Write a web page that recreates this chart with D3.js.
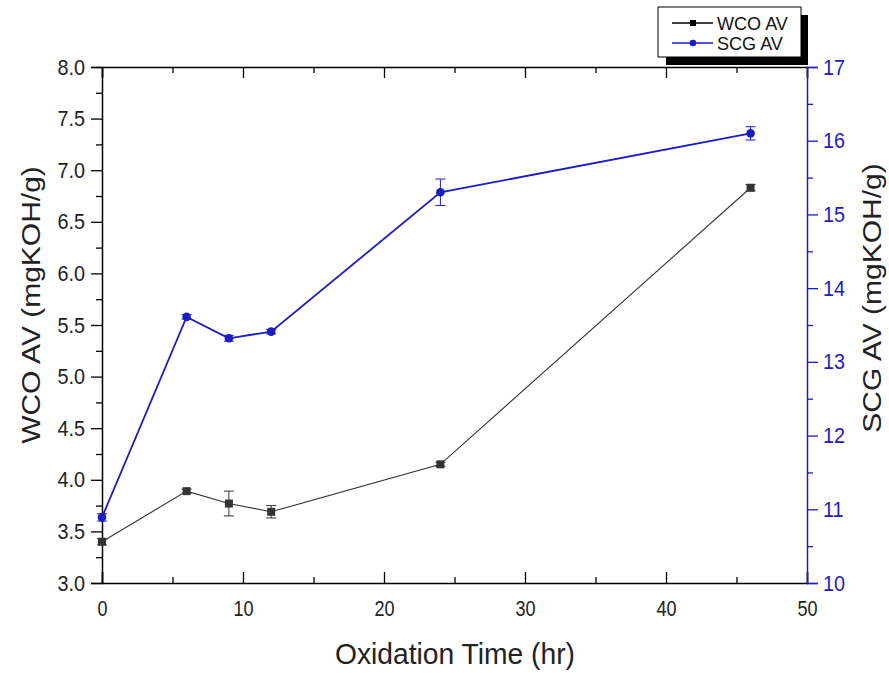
<!DOCTYPE html>
<html><head><meta charset="utf-8">
<script src="https://cdn.jsdelivr.net/npm/d3@7"></script>
<style>body{margin:0;background:#fff;} text{font-family:"Liberation Sans",Arial,sans-serif;}</style>
</head><body>
<svg id="c" width="889" height="673"></svg>
<script>
const times = [0, 6, 9, 12, 24, 46];
const wcoAV = [3.40, 3.89, 3.77, 3.69, 4.15, 6.83];
const wcoErr = [0.03, 0.02, 0.12, 0.06, 0.02, 0.03];
const scgAV = [10.89, 13.61, 13.32, 13.41, 15.30, 16.10];
const scgErr = [0.05, 0.03, 0.04, 0.03, 0.18, 0.09];
const xTicks = [0, 10, 20, 30, 40, 50];
const yLeftTicks = [3.0, 3.5, 4.0, 4.5, 5.0, 5.5, 6.0, 6.5, 7.0, 7.5, 8.0];
const yRightTicks = [10, 11, 12, 13, 14, 15, 16, 17];
const seriesNames = ["WCO AV", "SCG AV"];

const BLUE = "#1c1cc4";
const FONT = "Liberation Sans, Arial, sans-serif";
const svg = d3.select("#c");
const L = 102, R = 807, T = 67, B = 583;
const x = d3.scaleLinear().domain([0, 50]).range([L, R]);
const yL = d3.scaleLinear().domain([3, 8]).range([B, T]);
const yR = d3.scaleLinear().domain([10, 17]).range([B, T]);

function squeeze(sel, f) {
  sel.each(function () {
    const w = this.getComputedTextLength();
    if (w > 0) d3.select(this).attr("textLength", w * f).attr("lengthAdjust", "spacingAndGlyphs");
  });
}

// axes
const gBottom = svg.append("g").attr("transform", `translate(0,${B})`)
  .call(d3.axisBottom(x).tickValues(d3.range(0, 51, 5)).tickSize(-11).tickFormat(""));
gBottom.selectAll(".tick line").attr("y2", d => d % 10 === 0 ? -11 : -6);
const gBottomLab = svg.append("g").attr("transform", `translate(0,${B})`)
  .call(d3.axisBottom(x).tickValues(xTicks).tickSize(0).tickPadding(17).tickFormat(d3.format("d")));
gBottomLab.select(".domain").remove();

const gTop = svg.append("g").attr("transform", `translate(0,${T})`)
  .call(d3.axisTop(x).tickValues(d3.range(0, 51, 5)).tickSize(-11).tickFormat(""));
gTop.selectAll(".tick line").attr("y2", d => d % 10 === 0 ? 11 : 6);

const isHalf = d => Math.abs(d * 2 - Math.round(d * 2)) < 1e-6;
const gLeft = svg.append("g").attr("transform", `translate(${L},0)`)
  .call(d3.axisLeft(yL).tickValues(d3.range(3, 8.01, 0.25)).tickSize(11).tickPadding(6)
    .tickFormat(d => isHalf(d) ? d3.format(".1f")(d) : ""));
gLeft.selectAll(".tick line").attr("x2", d => isHalf(d) ? -11 : -6);

const gRight = svg.append("g").attr("transform", `translate(${R},0)`)
  .call(d3.axisRight(yR).tickValues(d3.range(10, 17.01, 0.5)).tickSize(11).tickPadding(5)
    .tickFormat(d => Number.isInteger(d) ? d3.format("d")(d) : ""));
gRight.selectAll(".tick line").attr("x2", d => Number.isInteger(d) ? 11 : 6);

[gBottom, gTop, gLeft, gBottomLab].forEach(g => {
  g.selectAll("path.domain").attr("stroke", "#000").attr("stroke-width", 1.5);
  g.selectAll(".tick line").attr("stroke", "#000").attr("stroke-width", 1.3);
  g.selectAll("text").attr("fill", "#222").style("font-size", "22px").style("font-family", FONT);
});
gRight.selectAll("path.domain").attr("stroke", BLUE).attr("stroke-width", 1.5);
gRight.selectAll(".tick line").attr("stroke", BLUE).attr("stroke-width", 1.3);
gRight.selectAll("text").attr("fill", BLUE).style("font-size", "22px").style("font-family", FONT);
squeeze(gBottomLab.selectAll("text"), 0.82);
squeeze(gLeft.selectAll("text"), 0.9);
squeeze(gRight.selectAll("text"), 0.9);

// titles
svg.append("text").attr("x", 455).attr("y", 664).attr("text-anchor", "middle")
  .attr("textLength", 240).attr("lengthAdjust", "spacingAndGlyphs")
  .style("font-size", "29px").attr("fill", "#222").text("Oxidation Time (hr)");
svg.append("text").attr("transform", `translate(40,305) scale(0.85,1) rotate(-90)`).attr("text-anchor", "middle")
  .style("font-size", "30px").attr("fill", "#222").text("WCO AV (mgKOH/g)");
svg.append("text").attr("transform", `translate(881,298) scale(0.85,1) rotate(-90)`).attr("text-anchor", "middle")
  .style("font-size", "30px").attr("fill", "#222").text("SCG AV (mgKOH/g)");

// data
const wco = times.map((t, i) => ({ t, v: wcoAV[i], e: wcoErr[i] }));
const scg = times.map((t, i) => ({ t, v: scgAV[i], e: scgErr[i] }));

function drawSeries(data, y, color, width, marker) {
  const g = svg.append("g");
  g.append("path").datum(data).attr("fill", "none").attr("stroke", color).attr("stroke-width", width)
    .attr("d", d3.line().x(d => x(d.t)).y(d => y(d.v)));
  const eb = g.selectAll(".eb").data(data).enter().append("g").attr("stroke", color).attr("stroke-width", 1);
  eb.append("line").attr("x1", d => x(d.t)).attr("x2", d => x(d.t)).attr("y1", d => y(d.v - d.e)).attr("y2", d => y(d.v + d.e));
  eb.append("line").attr("x1", d => x(d.t) - 5).attr("x2", d => x(d.t) + 5).attr("y1", d => y(d.v - d.e)).attr("y2", d => y(d.v - d.e));
  eb.append("line").attr("x1", d => x(d.t) - 5).attr("x2", d => x(d.t) + 5).attr("y1", d => y(d.v + d.e)).attr("y2", d => y(d.v + d.e));
  if (marker === "square") {
    g.selectAll(".m").data(data).enter().append("rect")
      .attr("x", d => x(d.t) - 4).attr("y", d => y(d.v) - 4).attr("width", 8).attr("height", 8).attr("fill", color);
  } else {
    g.selectAll(".m").data(data).enter().append("circle")
      .attr("cx", d => x(d.t)).attr("cy", d => y(d.v)).attr("r", 4.3).attr("fill", color);
  }
}
drawSeries(wco, yL, "#333", 1.1, "square");
drawSeries(scg, yR, BLUE, 1.8, "circle");

// legend
const lg = svg.append("g");
lg.append("rect").attr("x", 666).attr("y", 15).attr("width", 142).attr("height", 50).attr("fill", "#000");
lg.append("rect").attr("x", 658).attr("y", 7).attr("width", 143).attr("height", 50).attr("fill", "#fff").attr("stroke", "#000").attr("stroke-width", 1);
const items = [{ n: seriesNames[0], c: "#000", m: "square" }, { n: seriesNames[1], c: BLUE, m: "circle" }];
items.forEach((it, i) => {
  const yy = 23 + i * 20;
  lg.append("line").attr("x1", 672).attr("x2", 713).attr("y1", yy).attr("y2", yy).attr("stroke", it.c).attr("stroke-width", 1.3);
  if (it.m === "square") lg.append("rect").attr("x", 690).attr("y", yy - 3).attr("width", 6).attr("height", 6).attr("fill", it.c);
  else lg.append("circle").attr("cx", 693).attr("cy", yy).attr("r", 3.3).attr("fill", it.c);
  const t = lg.append("text").attr("x", 717).attr("y", yy + 6.5).style("font-size", "19px").attr("fill", "#111").text(it.n);
  squeeze(t, 0.95);
});
</script>
</body></html>
